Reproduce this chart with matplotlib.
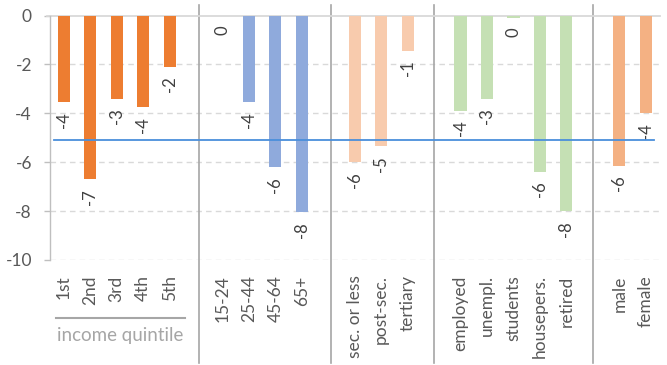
import matplotlib
matplotlib.use("Agg")
import matplotlib.pyplot as plt
import matplotlib.transforms as mtransforms

plt.rcParams['font.family'] = ['Lato', 'DejaVu Sans']

# Groups of categories and their values
quintile_labels = ["1st", "2nd", "3rd", "4th", "5th"]
quintile_vals = [-3.55, -6.7, -3.4, -3.75, -2.1]

age_labels = ["15-24", "25-44", "45-64", "65+"]
age_vals = [-0.02, -3.55, -6.2, -8.05]

edu_labels = ["sec. or less", "post-sec.", "tertiary"]
edu_vals = [-6.0, -5.35, -1.45]

occ_labels = ["employed", "unempl.", "students", "housepers.", "retired"]
occ_vals = [-3.9, -3.4, -0.1, -6.4, -8.0]

sex_labels = ["male", "female"]
sex_vals = [-6.15, -4.0]

average_val = -5.1
group_title = "income quintile"

groups = [
    (quintile_labels, quintile_vals, "#ED7D31"),
    (age_labels, age_vals, "#8FAADC"),
    (edu_labels, edu_vals, "#F8CBAD"),
    (occ_labels, occ_vals, "#C5E0B4"),
    (sex_labels, sex_vals, "#F4B183"),
]

fig = plt.figure(figsize=(6.67, 3.65), dpi=100)
ax = fig.add_axes([50 / 667, 105 / 365, 610 / 667, 244.5 / 365])

# Lay the groups out with one empty slot between consecutive groups
positions, labels = [], []
pos = 0
separators = []
for gi, (labs, vals, col) in enumerate(groups):
    xs = list(range(pos, pos + len(labs)))
    ax.bar(xs, vals, width=0.46, color=col, zorder=3)
    for x, v in zip(xs, vals):
        ax.annotate(f"{int(round(v))}", (x, v), xytext=(0, -7),
                    textcoords="offset points", rotation=90,
                    ha="center", va="top", fontsize=12, color="#404040")
    positions += xs
    labels += labs
    pos += len(labs) + 1
    if gi < len(groups) - 1:
        separators.append(pos - 1)

# Separator offsets inside the empty slots
sep_shift = [0.1, 0.1, 0.0, 0.0]
trans = mtransforms.blended_transform_factory(ax.transData, ax.transAxes)
for s, d in zip(separators, sep_shift):
    ax.plot([s + d, s + d], [1.043, -0.421], color="#A6A6A6", lw=1.2,
            transform=trans, clip_on=False, zorder=1)

# Average line
ax.plot([-0.37, pos - 1 - 0.69], [average_val, average_val],
        color="#4A8FDB", lw=1.3, zorder=4)

ax.set_xlim(-0.522, 22.54)
ax.set_ylim(-10, 0)
ax.set_yticks([0, -2, -4, -6, -8, -10])
ax.set_yticklabels(["0", "-2", "-4", "-6", "-8", "-10"])

for y in [-2, -4, -6, -8, -10]:
    ax.axhline(y, color="#D9D9D9", lw=1.0, ls=(0, (4, 3)), zorder=0)
ax.plot([-0.65, 22.54], [0, 0], color="#D9D9D9", lw=1.3, zorder=2, clip_on=False)

for side in ["top", "right", "bottom"]:
    ax.spines[side].set_visible(False)
ax.spines["left"].set_color("#BFBFBF")
ax.spines["left"].set_linewidth(1.0)

ax.set_xticks(positions)
ax.set_xticklabels(labels, rotation=90, ha="center", va="top")
ax.tick_params(axis="x", length=0, pad=11, labelsize=12.5, labelcolor="#595959")
ax.tick_params(axis="y", length=4, width=1, color="#BFBFBF", pad=9,
               labelsize=12.5, labelcolor="#595959")

# Group caption under the first block
n_q = len(quintile_labels)
ax.plot([-0.29, n_q - 1 + 0.58], [-0.237, -0.237], color="#A6A6A6", lw=1.5,
        transform=trans, clip_on=False)
ax.text((n_q - 1) / 2 + 0.15, -0.307, group_title, transform=trans,
        ha="center", va="center", fontsize=13.5, color="#A6A6A6")

fig.savefig("out.png", dpi=100)
